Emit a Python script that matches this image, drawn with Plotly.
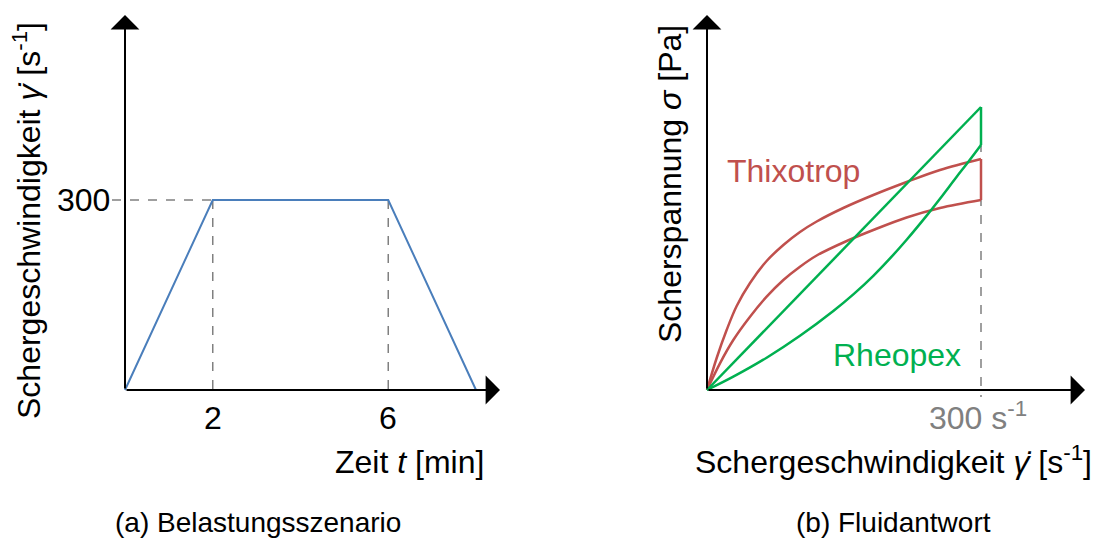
import plotly.graph_objects as go

# ---------------- data ----------------
# (a) load scenario: time [min] vs shear rate [1/s]
t_min = [0, 2, 6, 8]
shear_rate = [0, 300, 300, 0]
tick_times = [2, 6]
tick_times_labels = ["2", "6"]
rate_level = 300

# (b) fluid response: shear rate [1/s] vs shear stress (arbitrary units)
thixo_up_x = [0, 10.6, 21.5, 32.5, 47.1, 65.3, 83.6, 101.8, 120.1, 149.2, 182.1, 218.6, 255.1, 300]
thixo_up_y = [0, 32, 60, 84, 107, 129, 145, 158, 168.5, 182, 195, 208, 220, 231]
thixo_down_x = [300, 255.1, 218.6, 182.1, 153, 120.1, 101.8, 83.6, 65.3, 47.1, 28.8, 14.2, 0]
thixo_down_y = [190, 182, 172.5, 160, 149, 134.5, 123.3, 110, 93.3, 73.3, 50, 26.7, 0]

rheo_up_x = [0, 300]
rheo_up_y = [0, 283]
rheo_down_x = [300, 284.3, 273.4, 255.1, 240.5, 218.6, 200.4, 182.1, 160.2, 138.3, 101.8, 65.3, 28.8, 0]
rheo_down_y = [245, 226, 213.3, 191.3, 174.4, 150.3, 131.6, 114.2, 95.6, 79, 54.2, 32.3, 13.3, 0]

rate_max = 300

FONT = "Liberation Sans, Arial, Helvetica, sans-serif"
BLUE = "#4a7ebb"
RED = "#c0504d"
GREEN = "#00b050"
GRAY = "#808080"
FS = 32

W, H = 1095, 541
# pixel layout of the two schematic panels
L_X0, L_PPU_X = 125, 43.875     # origin px, px per minute
L_Y0, L_PPU_Y = 390, 190 / 300  # origin px (from top), px per unit
R_X0, R_PPU_X = 707, 274 / 300
R_Y0, R_PPU_Y = 390, 1.0

fig = go.Figure()

def line(x, y, color, width, xa, ya, dash=None, spline=False):
    ln = dict(color=color, width=width, simplify=False)
    if dash:
        ln["dash"] = dash
    if spline:
        ln["shape"] = "spline"
        ln["smoothing"] = 1.0
    fig.add_trace(go.Scatter(x=x, y=y, mode="lines", line=ln, xaxis=xa, yaxis=ya,
                             showlegend=False, hoverinfo="skip"))

# (a) guide lines
below = -7 / L_PPU_Y
line([-13 / L_PPU_X, t_min[1]], [rate_level, rate_level], GRAY, 1.5, "x", "y", dash="dash")
for tv in tick_times:
    line([tv, tv], [rate_level, below], GRAY, 1.5, "x", "y", dash="dash")
# (a) load curve
line(t_min, shear_rate, BLUE, 2, "x", "y")

# (b)
line([rate_max, rate_max], [rheo_up_y[-1], -7], GRAY, 1.5, "x2", "y2", dash="dash")
line(thixo_up_x, thixo_up_y, RED, 2.5, "x2", "y2", spline=True)
line([thixo_up_x[-1], thixo_down_x[0]], [thixo_up_y[-1], thixo_down_y[0]], RED, 2.5, "x2", "y2")
line(thixo_down_x, thixo_down_y, RED, 2.5, "x2", "y2", spline=True)
line(rheo_up_x, rheo_up_y, GREEN, 2.5, "x2", "y2")
line([rheo_up_x[-1], rheo_down_x[0]], [rheo_up_y[-1], rheo_down_y[0]], GREEN, 2.5, "x2", "y2")
line(rheo_down_x, rheo_down_y, GREEN, 2.5, "x2", "y2", spline=True)

def rng(x0, ppu, lo_px, hi_px):
    return [(lo_px - x0) / ppu, (hi_px - x0) / ppu]

ax_common = dict(visible=False, fixedrange=True)
fig.update_layout(
    width=W, height=H, margin=dict(l=0, r=0, t=0, b=0),
    paper_bgcolor="white", plot_bgcolor="white",
    font=dict(family=FONT, size=FS, color="black"),
    xaxis=dict(domain=[0, 0.5], range=rng(L_X0, L_PPU_X, 0, W / 2), **ax_common),
    yaxis=dict(domain=[0, 1], range=[(L_Y0 - H) / L_PPU_Y, L_Y0 / L_PPU_Y], anchor="x", **ax_common),
    xaxis2=dict(domain=[0.5, 1], range=rng(R_X0, R_PPU_X, W / 2, W), anchor="y2", **ax_common),
    yaxis2=dict(domain=[0, 1], range=[(R_Y0 - H) / R_PPU_Y, R_Y0 / R_PPU_Y], anchor="x2", **ax_common),
)

ann = []
# axis arrows
def arrow(xr, yr, x0, y0, x1, y1):
    return dict(xref=xr, yref=yr, axref=xr, ayref=yr, x=x1, y=y1, ax=x0, ay=y0,
                showarrow=True, arrowhead=1, arrowsize=2.4, arrowwidth=2,
                arrowcolor="black", text="", standoff=0, startstandoff=0)

ann.append(arrow("x", "y", 0, 0, (500 - L_X0) / L_PPU_X, 0))
ann.append(arrow("x", "y", 0, 0, 0, (L_Y0 - 15) / L_PPU_Y))
ann.append(arrow("x2", "y2", 0, 0, (1085 - R_X0) / R_PPU_X, 0))
ann.append(arrow("x2", "y2", 0, 0, 0, (R_Y0 - 15) / R_PPU_Y))

# tick labels (a)
for tv, tl in zip(tick_times, tick_times_labels):
    ann.append(dict(xref="x", yref="y", x=tv, y=(L_Y0 - 418) / L_PPU_Y, text=tl,
                    showarrow=False, xanchor="center", yanchor="middle"))
ann.append(dict(xref="x", yref="y", x=-13 / L_PPU_X, y=rate_level, text=str(rate_level),
                showarrow=False, xanchor="right", yanchor="middle"))

def P(px, py, text, color="black", size=FS, **kw):
    d = dict(xref="paper", yref="paper", x=px / W, y=1 - py / H, text=text,
             showarrow=False, xanchor="center", yanchor="middle",
             font=dict(color=color, size=size, family=FONT))
    d.update(kw)
    return d

ann.append(P(409, 462, "Zeit <i>t</i> [min]"))
ann.append(P(27, 221, "Schergeschwindigkeit <i>γ̇</i> [s<sup>-1</sup>]", textangle=-90))
ann.append(P(893, 460, "Schergeschwindigkeit <i>γ̇</i> [s<sup>-1</sup>]"))
ann.append(P(670, 184, "Scherspannung <i>σ</i> [Pa]", textangle=-90))
ann.append(P(978, 416, "300 s<sup>-1</sup>", color=GRAY))
ann.append(P(793, 171, "Thixotrop", color=RED))
ann.append(P(897, 355, "Rheopex", color=GREEN))
ann.append(P(258, 522, "(a) Belastungsszenario", size=28))
ann.append(P(893, 522, "(b) Fluidantwort", size=28))

fig.update_layout(annotations=ann)
fig.write_html("out.html", config={"displayModeBar": False, "staticPlot": True},
               post_script="document.body.style.margin='0';document.body.style.padding='0';"
                           "document.documentElement.style.overflow='hidden';")
